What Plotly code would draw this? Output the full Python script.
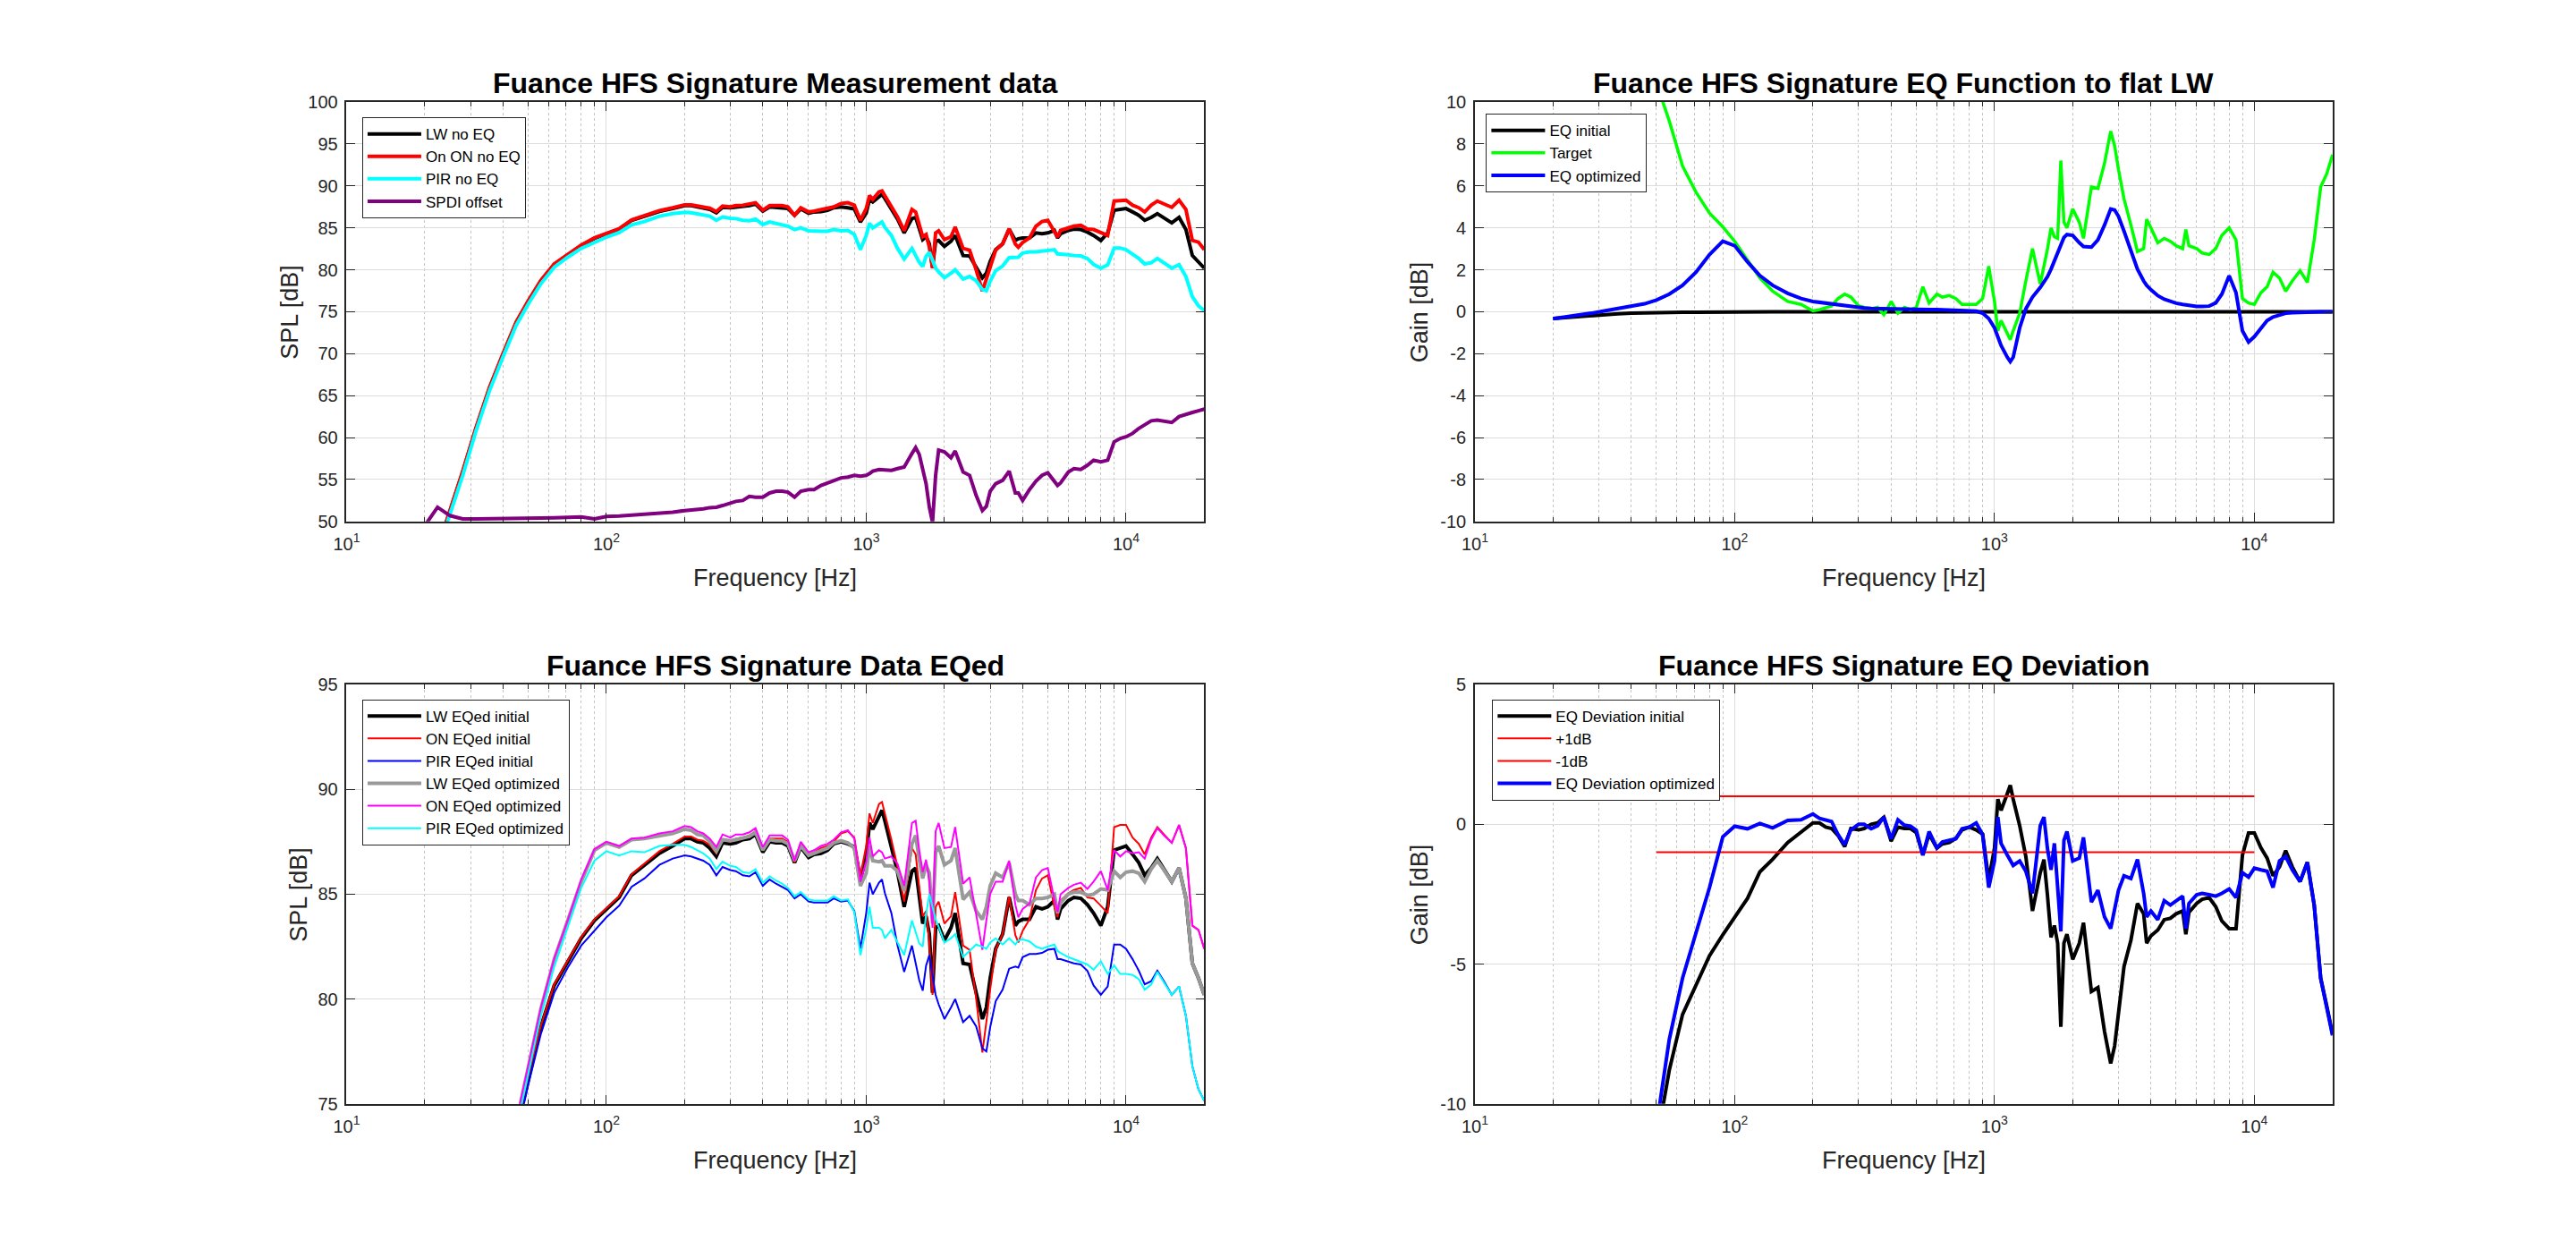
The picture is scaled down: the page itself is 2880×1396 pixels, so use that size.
import plotly.graph_objects as go
from plotly.subplots import make_subplots

# frequency grid (Hz) shared by every curve
freq = [20, 22.4, 25, 28, 31.5, 35.5, 40, 45, 50, 56,
        63, 71, 80, 90, 100, 112, 125, 140, 160, 180,
        200, 212, 224, 236, 250, 265, 280, 300, 315, 335,
        355, 375, 400, 425, 450, 475, 500, 530, 560, 600,
        630, 670, 710, 750, 800, 850, 900, 950, 1000, 1030,
        1060, 1120, 1150, 1180, 1250, 1320, 1400, 1500, 1550, 1600,
        1650, 1700, 1750, 1800, 1850, 1900, 2000, 2120, 2200, 2360,
        2500, 2650, 2800, 2900, 3000, 3150, 3350, 3550, 3750, 3850,
        4000, 4250, 4500, 4750, 5000, 5300, 5450, 5600, 6000, 6300,
        6700, 7100, 7500, 8000, 8500, 9000, 9500, 10000, 10600, 11200,
        11800, 12500, 13200, 14000, 15000, 16000, 17000, 18000, 19000, 20000]

# measurement data (SPL, dB)
lw_spl = [42.0, 46.6, 51.3, 55.9, 61.1, 65.9, 69.9, 73.7, 76.2, 78.7,
          80.65, 81.8, 82.9, 83.75, 84.3, 84.85, 85.9, 86.4, 86.95, 87.3,
          87.65, 87.65, 87.5, 87.45, 87.2, 86.8, 87.45, 87.4, 87.45, 87.6,
          87.65, 87.85, 87.0, 87.5, 87.45, 87.45, 87.3, 86.5, 87.25, 86.75,
          86.9, 86.95, 87.1, 87.4, 87.5, 87.4, 87.25, 85.7, 86.75, 88.4,
          88.1, 88.7, 89.0, 88.5, 87.3, 86.05, 84.4, 86.1, 86.25, 84.9,
          83.6, 83.95, 83.1, 80.3, 83.4, 83.5, 82.8, 83.4, 84.1, 81.7,
          81.65, 80.3, 79.05, 79.6, 81.0, 82.4, 83.1, 84.85, 83.5, 83.7,
          83.8, 83.8, 84.4, 84.3, 84.4, 84.7, 83.8, 84.3, 84.7, 84.85,
          84.8, 84.5, 84.1, 83.5, 84.4, 87.1, 87.2, 87.3, 86.9, 86.5,
          85.9, 86.25, 86.7, 86.2, 85.6, 86.25, 84.8, 81.7, 81.0, 80.2]

on_spl = [42.1, 46.7, 51.4, 56.0, 61.2, 66.0, 70.0, 73.8, 76.3, 78.75,
          80.7, 81.85, 82.95, 83.8, 84.35, 84.9, 85.95, 86.45, 87.05, 87.4,
          87.75, 87.75, 87.6, 87.55, 87.35, 86.95, 87.6, 87.5, 87.65, 87.7,
          87.8, 88.0, 87.1, 87.65, 87.65, 87.65, 87.5, 86.5, 87.4, 86.9,
          87.0, 87.2, 87.3, 87.5, 87.9, 88.0, 87.7, 85.9, 87.3, 88.85,
          88.4, 89.3, 89.4, 88.85, 87.6, 86.3, 84.65, 87.2, 86.9, 85.35,
          83.95, 84.2, 82.7, 80.2, 84.4, 84.65, 83.6, 83.95, 85.1, 82.55,
          82.35, 80.0, 77.45, 78.9, 80.45, 82.35, 83.1, 84.9, 83.05, 82.7,
          83.25, 83.8, 85.2, 85.75, 85.9, 84.4, 83.9, 84.7, 85.05, 85.2,
          85.3, 84.85, 84.8, 84.45, 84.1, 88.2, 88.3, 88.3, 87.7, 87.4,
          86.9, 87.7, 88.2, 87.85, 87.45, 88.3, 87.2, 83.5, 83.3, 82.4]

pir_spl = [41.7, 46.3, 50.9, 55.5, 60.8, 65.6, 69.6, 73.4, 75.9, 78.35,
           80.3, 81.5, 82.55, 83.25, 83.9, 84.45, 85.35, 85.75, 86.4, 86.7,
           86.85, 86.8, 86.7, 86.6, 86.4, 85.9, 86.3, 86.15, 86.1, 85.9,
           85.85, 86.05, 85.4, 85.7, 85.5, 85.35, 85.2, 84.8, 85.0, 84.65,
           84.6, 84.6, 84.6, 84.8, 84.65, 84.7, 84.2, 82.4, 84.1, 85.55,
           85.0, 85.55, 85.7, 85.05, 84.1, 82.55, 81.3, 82.55, 81.7, 80.9,
           80.4, 81.6, 82.1, 81.15, 80.2, 79.75, 79.05, 79.6, 80.0, 78.9,
           79.2, 78.7, 77.65, 77.5, 78.65, 79.9, 80.45, 81.45, 81.55, 81.5,
           82.0, 82.15, 82.15, 82.2, 82.35, 82.4, 81.9, 81.9, 81.8, 81.7,
           81.65, 81.35, 80.65, 80.2, 80.6, 82.6, 82.6, 82.4, 81.9, 81.35,
           80.7, 80.85, 81.35, 80.85, 80.2, 80.6, 79.2, 76.8, 75.7, 75.15]

spdi_offset = [49.5, 51.7, 50.7, 50.3, 50.3, 50.3, 50.35, 50.35, 50.4, 50.4,
               50.45, 50.5, 50.55, 50.3, 50.6, 50.65, 50.75, 50.85, 51.0, 51.1,
               51.3, 51.35, 51.4, 51.5, 51.65, 51.7, 51.9, 52.2, 52.4, 52.5,
               53.0, 52.9, 52.9, 53.4, 53.6, 53.6, 53.5, 52.9, 53.6, 53.8,
               53.8, 54.3, 54.6, 54.9, 55.2, 55.3, 55.5, 55.4, 55.5, 55.7,
               56.0, 56.2, 56.2, 56.2, 56.1, 56.3, 56.5, 58.1, 58.8, 58.0,
               56.2, 54.5, 51.7, 49.9, 55.5, 58.5, 58.3, 57.6, 58.4, 55.9,
               55.5, 53.1, 51.3, 51.8, 53.6, 54.5, 54.9, 56.0, 53.4, 53.4,
               52.5, 53.8, 54.8, 55.5, 55.8, 54.8, 54.3, 54.6, 55.9, 56.3,
               56.2, 56.7, 57.3, 57.1, 57.3, 59.5, 59.9, 60.1, 60.5, 61.1,
               61.5, 62.0, 62.1, 62.0, 61.8, 62.5, 62.8, 63.0, 63.2, 63.4]

# EQ curves (gain, dB)
eq_initial = [-0.32, -0.27, -0.22, -0.17, -0.13, -0.10, -0.07, -0.05, -0.04, -0.03,
              -0.02, -0.02, -0.01, -0.01, -0.01, 0, 0, 0, 0, 0,
              0, 0, 0, 0, 0, 0, 0, 0, 0, 0,
              0, 0, 0, 0, 0, 0, 0, 0, 0, 0,
              0, 0, 0, 0, 0, 0, 0, 0, 0, 0,
              0, 0, 0, 0, 0, 0, 0, 0, 0, 0,
              0, 0, 0, 0, 0, 0, 0, 0, 0, 0,
              0, 0, 0, 0, 0, 0, 0, 0, 0, 0,
              0, 0, 0, 0, 0, 0, 0, 0, 0, 0,
              0, 0, 0, 0, 0, 0, 0, 0, 0, 0,
              0, 0, 0, 0, 0, 0, 0, 0, 0, 0]

eq_target = [None, None, None, None, None, None, None, None, 10.9, 9.1,
             6.95, 5.7, 4.7, 4.05, 3.36, 2.5, 1.61, 0.98, 0.49, 0.35,
             0.04, 0.10, 0.21, 0.28, 0.63, 0.84, 0.7, 0.28, 0.21, 0.14,
             0.21, -0.14, 0.49, -0.07, 0.21, 0.10, 0.21, 1.19, 0.42, 0.84,
             0.70, 0.77, 0.63, 0.35, 0.35, 0.35, 0.63, 2.17, 0.49, -0.91,
             -0.42, -1.05, -1.33, -0.91, -0.07, 1.47, 3.01, 1.33, 2.17, 3.01,
             4.0, 3.57, 3.5, 7.21, 4.27, 4.0, 4.90, 4.27, 3.5, 5.95,
             5.88, 7.07, 8.61, 7.91, 6.79, 5.39, 4.13, 2.87, 3.01, 4.41,
             4.0, 3.29, 3.5, 3.36, 3.15, 3.01, 3.92, 3.15, 3.01, 2.80,
             2.73, 3.01, 3.64, 4.0, 3.43, 0.63, 0.42, 0.35, 0.91, 1.19,
             1.89, 1.61, 0.98, 1.47, 1.96, 1.40, 3.43, 5.95, 6.58, 7.49]

eq_optimized = [-0.33, -0.25, -0.17, -0.07, 0.04, 0.14, 0.25, 0.38, 0.56, 0.84,
                1.26, 1.89, 2.73, 3.36, 3.15, 2.38, 1.72, 1.26, 0.88, 0.63,
                0.49, 0.45, 0.38, 0.35, 0.31, 0.28, 0.24, 0.21, 0.18, 0.16,
                0.15, 0.15, 0.14, 0.14, 0.13, 0.13, 0.12, 0.11, 0.11, 0.11,
                0.10, 0.10, 0.09, 0.08, 0.07, 0.03, -0.07, -0.32, -0.77, -1.19,
                -1.61, -2.17, -2.38, -2.17, -0.77, 0.14, 0.70, 1.16, 1.40, 1.68,
                2.03, 2.45, 2.87, 3.22, 3.54, 3.68, 3.64, 3.29, 3.11, 3.08,
                3.43, 4.13, 4.90, 4.85, 4.55, 3.85, 2.87, 2.03, 1.47, 1.26,
                1.05, 0.77, 0.60, 0.49, 0.41, 0.35, 0.32, 0.29, 0.25, 0.25,
                0.27, 0.42, 0.84, 1.72, 0.91, -0.91, -1.44, -1.19, -0.77, -0.42,
                -0.25, -0.14, -0.07, -0.04, -0.02, -0.01, 0, 0, 0, 0]

# responses with the optimized EQ applied (SPL, dB)
lw_eq_opt = [41.7, 46.35, 51.1, 55.8, 61.1, 66.0, 70.1, 74.1, 76.75, 79.55,
             81.9, 83.7, 85.6, 87.1, 87.45, 87.25, 87.6, 87.65, 87.8, 87.9,
             88.1, 88.05, 87.85, 87.8, 87.5, 87.05, 87.6, 87.55, 87.6, 87.7,
             87.75, 87.95, 87.1, 87.6, 87.55, 87.55, 87.4, 86.6, 87.3, 86.85,
             86.95, 87.05, 87.2, 87.45, 87.55, 87.45, 87.2, 85.4, 86.0, 87.3,
             86.6, 86.55, 86.6, 86.35, 86.35, 86.1, 85.15, 87.4, 87.8, 86.65,
             85.75, 86.4, 86.0, 83.6, 87.0, 87.3, 86.4, 86.6, 87.2, 84.75,
             85.1, 84.2, 83.8, 84.4, 85.4, 86.0, 85.8, 86.5, 85.0, 84.7,
             84.7, 84.5, 84.8, 84.8, 84.85, 85.0, 84.1, 84.6, 85.0, 85.1,
             85.1, 84.95, 85.0, 85.25, 85.2, 86.1, 85.8, 86.05, 86.1, 86.0,
             85.6, 86.2, 86.6, 86.15, 85.6, 86.25, 84.8, 81.7, 81.0, 80.2]

on_eq_opt = [41.8, 46.45, 51.2, 55.9, 61.25, 66.15, 70.25, 74.2, 76.85, 79.6,
             81.95, 83.75, 85.7, 87.15, 87.5, 87.3, 87.65, 87.7, 87.9, 88.0,
             88.25, 88.2, 88.0, 87.9, 87.65, 87.25, 87.85, 87.7, 87.85, 87.85,
             87.95, 88.15, 87.25, 87.8, 87.8, 87.8, 87.6, 86.6, 87.5, 87.0,
             87.1, 87.3, 87.4, 87.6, 87.95, 88.05, 87.65, 85.6, 86.55, 87.7,
             86.8, 87.1, 87.0, 86.7, 86.8, 86.45, 85.4, 88.4, 88.5, 87.1,
             86.05, 86.65, 85.6, 83.4, 88.0, 88.4, 87.2, 87.25, 88.2, 85.5,
             85.8, 84.1, 82.35, 83.75, 85.0, 85.6, 85.6, 86.6, 84.5, 83.9,
             84.3, 84.55, 85.8, 86.15, 86.25, 84.75, 84.15, 85.0, 85.3, 85.45,
             85.55, 85.25, 85.6, 86.1, 85.2, 87.1, 86.8, 87.05, 86.95, 87.0,
             86.7, 87.6, 88.15, 87.8, 87.45, 88.3, 87.2, 83.5, 83.3, 82.4]

pir_eq_opt = [41.4, 46.05, 50.7, 55.4, 60.85, 65.75, 69.85, 73.8, 76.45, 79.2,
              81.55, 83.4, 85.3, 86.6, 87.05, 86.85, 87.05, 87.0, 87.3, 87.35,
              87.35, 87.25, 87.1, 86.95, 86.7, 86.2, 86.55, 86.35, 86.3, 86.05,
              86.0, 86.2, 85.55, 85.85, 85.65, 85.5, 85.3, 84.9, 85.1, 84.75,
              84.7, 84.7, 84.7, 84.9, 84.7, 84.75, 84.15, 82.1, 83.35, 84.4,
              83.4, 83.4, 83.3, 82.9, 83.3, 82.7, 82.1, 83.75, 83.2, 82.65,
              82.5, 84.05, 85.0, 84.4, 83.8, 83.45, 82.7, 82.9, 83.1, 82.0,
              82.3, 82.6, 82.5, 82.4, 82.7, 82.9, 82.6, 82.9, 82.6, 82.8,
              82.85, 82.75, 82.5, 82.4, 82.5, 82.6, 82.3, 82.2, 82.0, 81.9,
              81.8, 81.65, 81.4, 81.8, 81.2, 81.6, 81.2, 81.2, 81.15, 80.95,
              80.45, 80.7, 81.3, 80.8, 80.2, 80.6, 79.2, 76.8, 75.7, 75.15]

# deviation from flat (dB)
dev_initial = [None, None, None, None, None, None, None, None, -11.4, -8.8,
               -6.8, -5.75, -4.7, -3.95, -3.3, -2.65, -1.7, -1.25, -0.65, -0.3,
               0.05, 0.05, -0.1, -0.15, -0.4, -0.8, -0.15, -0.2, -0.15, 0.0,
               0.05, 0.25, -0.6, -0.1, -0.15, -0.15, -0.3, -1.1, -0.35, -0.85,
               -0.7, -0.65, -0.5, -0.2, -0.1, -0.2, -0.35, -2.0, -0.85, 0.9,
               0.5, 1.1, 1.4, 0.9, -0.05, -1.15, -3.1, -1.73, -1.26, -2.57,
               -4.04, -3.62, -4.25, -7.24, -4.25, -3.93, -4.83, -4.25, -3.52, -5.98,
               -5.84, -7.4, -8.55, -7.92, -6.77, -5.09, -4.14, -2.83, -3.2, -4.25,
               -3.99, -3.78, -3.41, -3.36, -3.2, -3.1, -3.93, -3.15, -2.83, -2.68,
               -2.62, -2.94, -3.46, -3.73, -3.73, -1.1, -0.31, -0.31, -0.84, -1.21,
               -1.84, -1.52, -0.94, -1.52, -2.05, -1.36, -2.89, -5.5, -6.5, -7.5]

dev_optimized = [None, None, None, None, None, None, None, None, -10.8, -7.7,
                 -5.5, -3.93, -2.26, -0.45, -0.07, -0.16, 0.03, -0.13, 0.14, 0.16,
                 0.37, 0.21, 0.14, 0.10, -0.37, -0.73, -0.2, 0.0, 0.0, -0.16,
                 -0.05, 0.26, -0.52, 0.16, -0.03, -0.07, -0.21, -1.10, -0.26, -0.84,
                 -0.63, -0.58, -0.52, -0.16, -0.10, 0.05, -0.37, -2.26, -1.31, 0.26,
                 -0.68, -1.10, -1.31, -1.47, -1.31, -1.68, -2.47, -0.05, 0.26, -0.89,
                 -1.63, -0.68, -2.26, -3.83, -0.58, -0.26, -1.31, -1.21, -0.47, -2.78,
                 -2.36, -3.31, -3.73, -3.10, -2.36, -1.84, -1.94, -1.26, -2.47, -3.31,
                 -3.10, -3.41, -2.73, -2.89, -2.73, -2.57, -3.73, -2.83, -2.52, -2.47,
                 -2.52, -2.57, -2.47, -2.31, -2.62, -1.73, -1.89, -1.57, -1.63, -1.68,
                 -2.26, -1.31, -1.15, -1.63, -2.05, -1.36, -2.89, -5.51, -6.56, -7.55]

tol_freq = [50, 10000]
tol_plus = [1, 1]
tol_minus = [-1, -1]

for arr in [lw_spl, on_spl, pir_spl, spdi_offset, eq_initial, eq_target, eq_optimized,
            lw_eq_opt, on_eq_opt, pir_eq_opt, dev_initial, dev_optimized]:
    assert len(arr) == len(freq), len(arr)

FONT = "Liberation Sans, Arial, Helvetica, sans-serif"
AX = "#262626"

fig = make_subplots(rows=2, cols=2)

def line(x, y, name, color, width, row, col, leg):
    fig.add_trace(go.Scatter(x=x, y=y, mode="lines", name=name,
                             line=dict(color=color, width=width),
                             legend=leg, connectgaps=False), row=row, col=col)

# top left: measurement data
line(freq, lw_spl, "LW no EQ", "#000000", 4, 1, 1, "legend")
line(freq, on_spl, "On ON no EQ", "#ff0000", 4, 1, 1, "legend")
line(freq, pir_spl, "PIR no EQ", "#00ffff", 4, 1, 1, "legend")
line(freq, spdi_offset, "SPDI offset", "#800080", 4, 1, 1, "legend")

# top right: EQ function
line(freq, eq_initial, "EQ initial", "#000000", 4, 1, 2, "legend2")
line(freq, eq_target, "Target", "#00ff00", 3.5, 1, 2, "legend2")
line(freq, eq_optimized, "EQ optimized", "#0000ff", 4, 1, 2, "legend2")

# bottom left: data with EQ applied
line(freq, lw_spl, "LW EQed initial", "#000000", 4, 2, 1, "legend3")
line(freq, on_spl, "ON EQed initial", "#ff0000", 2, 2, 1, "legend3")
line(freq, pir_spl, "PIR EQed initial", "#0000ff", 2, 2, 1, "legend3")
line(freq, lw_eq_opt, "LW EQed optimized", "#999999", 4, 2, 1, "legend3")
line(freq, on_eq_opt, "ON EQed optimized", "#ff00ff", 2, 2, 1, "legend3")
line(freq, pir_eq_opt, "PIR EQed optimized", "#00ffff", 2, 2, 1, "legend3")

# bottom right: deviation
line(freq, dev_initial, "EQ Deviation initial", "#000000", 4, 2, 2, "legend4")
line(tol_freq, tol_plus, "+1dB", "#ff0000", 2, 2, 2, "legend4")
line(tol_freq, tol_minus, "-1dB", "#ff0000", 2, 2, 2, "legend4")
line(freq, dev_optimized, "EQ Deviation optimized", "#0000ff", 4, 2, 2, "legend4")

x_major = [10, 100, 1000, 10000]
x_major_text = ["10<sup>1</sup>", "10<sup>2</sup>", "10<sup>3</sup>", "10<sup>4</sup>"]
x_minor = [20, 30, 40, 50, 60, 70, 80, 90, 200, 300, 400, 500, 600, 700, 800, 900,
           2000, 3000, 4000, 5000, 6000, 7000, 8000, 9000]

xdom = [[0.13, 0.4647], [0.5703, 0.905]]
ydom = [[0.5838, 0.925], [0.11, 0.4512]]

xaxis_style = dict(type="log", range=[1, 4.30103], tickvals=x_major, ticktext=x_major_text,
                   showline=True, linecolor=AX, linewidth=1.5, mirror="ticks",
                   ticks="inside", ticklen=10, tickcolor=AX, tickwidth=1.2,
                   ticklabelstandoff=6,
                   showgrid=True, gridcolor="#dcdcdc", gridwidth=1, zeroline=False,
                   tickfont=dict(size=20, color=AX, family=FONT),
                   minor=dict(tickvals=x_minor, ticks="inside", ticklen=5, tickcolor=AX,
                              showgrid=True, gridcolor="#c4c4c4", griddash="dot", gridwidth=1))

y_specs = {
    (1, 1): ([50, 55, 60, 65, 70, 75, 80, 85, 90, 95, 100], [50, 100]),
    (1, 2): ([-10, -8, -6, -4, -2, 0, 2, 4, 6, 8, 10], [-10, 10]),
    (2, 1): ([75, 80, 85, 90, 95], [75, 95]),
    (2, 2): ([-10, -5, 0, 5], [-10, 5]),
}

for (r, c), (yt, yr) in y_specs.items():
    fig.update_xaxes(domain=xdom[c - 1], row=r, col=c, **xaxis_style)
    fig.update_yaxes(domain=ydom[r - 1], row=r, col=c, range=yr,
                     tickvals=yt, ticktext=[str(v) for v in yt],
                     showline=True, linecolor=AX, linewidth=1.5, mirror="ticks",
                     ticks="inside", ticklen=10, tickcolor=AX, tickwidth=1.2,
                     ticklabelstandoff=4,
                     showgrid=True, gridcolor="#dcdcdc", gridwidth=1, zeroline=False,
                     tickfont=dict(size=20, color=AX, family=FONT))

titles = ["Fuance HFS Signature Measurement data", "Fuance HFS Signature EQ Function to flat LW",
          "Fuance HFS Signature Data EQed", "Fuance HFS Signature EQ Deviation"]
ylabels = ["SPL [dB]", "Gain [dB]", "SPL [dB]", "Gain [dB]"]
ylabel_x = [311, 1581, 321, 1581]
H, W = 1396, 2880

annotations = []
for i, (r, c) in enumerate([(1, 1), (1, 2), (2, 1), (2, 2)]):
    x0, x1 = xdom[c - 1]
    y0, y1 = ydom[r - 1]
    xc = (x0 + x1) / 2
    top_px = (1 - y1) * H
    bot_px = (1 - y0) * H
    annotations.append(dict(text="<b>" + titles[i] + "</b>", x=xc, y=1 - (top_px - 21) / H,
                            xref="paper", yref="paper", showarrow=False, xanchor="center",
                            yanchor="middle", font=dict(size=32, color="#000000", family=FONT)))
    annotations.append(dict(text="Frequency [Hz]", x=xc, y=1 - (bot_px + 64) / H,
                            xref="paper", yref="paper", showarrow=False, xanchor="center",
                            yanchor="middle", font=dict(size=27, color=AX, family=FONT)))
    annotations.append(dict(text=ylabels[i], x=ylabel_x[i] / W, y=(y0 + y1) / 2, textangle=-90,
                            xref="paper", yref="paper", showarrow=False, xanchor="center",
                            yanchor="middle", font=dict(size=27, color=AX, family=FONT)))

legend_style = dict(xanchor="left", yanchor="top", bgcolor="#ffffff", bordercolor=AX,
                    borderwidth=1, font=dict(size=17, color="#000000", family=FONT),
                    tracegroupgap=0, itemwidth=60)

fig.update_layout(
    width=W, height=H, autosize=False,
    margin=dict(l=0, r=0, t=0, b=0),
    paper_bgcolor="#ffffff", plot_bgcolor="#ffffff",
    font=dict(family=FONT, color=AX),
    annotations=annotations,
    legend=dict(x=392 / W, y=1 - 122 / H, **legend_style),
    legend2=dict(x=1655 / W, y=1 - 118 / H, **legend_style),
    legend3=dict(x=392 / W, y=1 - 783 / H, **legend_style),
    legend4=dict(x=1662 / W, y=1 - 783 / H, **legend_style),
)

fig.write_html("out.html", config={"displayModeBar": False},
               post_script="document.body.style.margin='0';document.body.style.overflow='hidden';")
